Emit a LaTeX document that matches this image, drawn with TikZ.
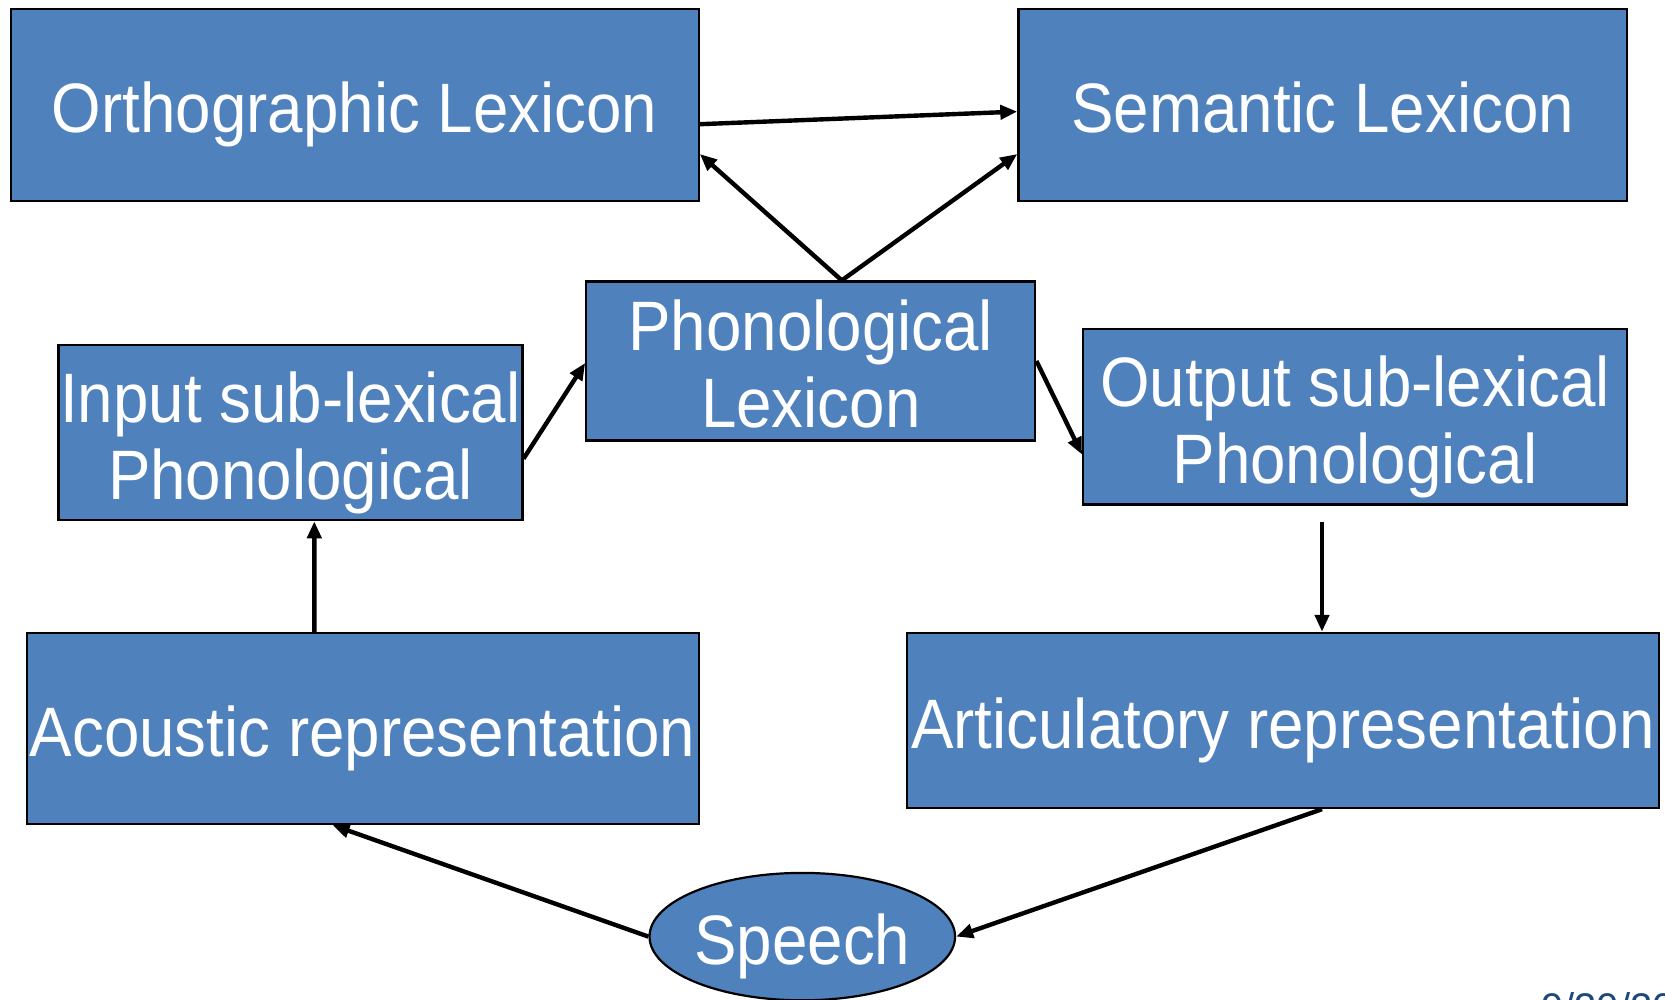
\documentclass[tikz,border=0pt]{standalone}
\usepackage{fontspec}
\setmainfont{Liberation Sans}[FakeStretch=0.91]
\newfontfamily\datefont{Liberation Sans}
\usetikzlibrary{arrows.meta,shapes.geometric,calc}
\definecolor{boxblue}{HTML}{4F81BD}
\definecolor{datecol}{HTML}{1F497D}
\tikzset{
  blk/.style={draw=black, line width=2.2pt, fill=boxblue, text=white, inner sep=0pt, align=center,
    font=\fontsize{70}{77}\selectfont, text height=60pt, text depth=4pt},
  twoline/.style={text height=137pt, text depth=4pt},
  conn/.style={line width=4.4pt, -{Triangle[length=17pt,width=14pt]}}
}
\begin{document}
\begin{tikzpicture}[x=1pt,y=-1pt]
\useasboundingbox (0,0) rectangle (1665,999);
\clip (0,0) rectangle (1665,999);
\node[blk, minimum width=688pt, minimum height=192pt] (ortho) at (354.7,104.6) {Orthographic Lexicon};
\node[blk, minimum width=608.4pt, minimum height=192pt] (sem) at (1322.6,104.6) {Semantic Lexicon};
\node[blk, twoline, minimum width=449pt, minimum height=159pt] (phon) at (810.8,361) {Phonological\\Lexicon};
\node[blk, twoline, minimum width=464pt, minimum height=175pt] (inp) at (290.4,432.7) {Input sub-lexical\\Phonological};
\node[blk, twoline, minimum width=543.7pt, minimum height=175.2pt] (outp) at (1355,416.8) {Output sub-lexical\\Phonological};
\node[blk, minimum width=672pt, minimum height=191pt] (acou) at (362.6,728.5) {Acoustic representation};
\node[blk, minimum width=751.8pt, minimum height=175.2pt] (artic) at (1282.8,720.5) {Articulatory representation};
\node[blk, ellipse, minimum width=302.6pt, minimum height=127.4pt] (speech) at (802.3,936.6) {Speech};
\node[anchor=base west, text=datecol, inner sep=0pt, font=\datefont\fontsize{40}{48}\selectfont] (date) at (1541,1021) {9/30/20};

\draw[conn] ([yshift=-19.6pt]ortho.east) -- ([yshift=-7pt]sem.west);
\draw[conn] ([xshift=31pt]phon.north) -- ([yshift=-49.4pt]ortho.east);
\draw[conn] ([xshift=31pt]phon.north) -- ([yshift=-49.4pt]sem.west);
\draw[conn] ([yshift=-26pt]inp.east) -- ([yshift=-2pt]phon.west);
\draw[conn] (phon.east) -- ([yshift=-37.7pt]outp.west);
\coordinate (outbelow) at ([xshift=-33pt,yshift=-16pt]outp.south);
\draw[conn] (outbelow) -- ([xshift=39.2pt]artic.north);
\draw[conn] ([xshift=-48.3pt]acou.north) -- ([xshift=23.9pt]inp.south);
\draw[conn] ([xshift=39.2pt]artic.south) -- (speech.east);
\draw[conn] (speech.west) -- ([xshift=-30pt]acou.south);
\end{tikzpicture}
\end{document}
